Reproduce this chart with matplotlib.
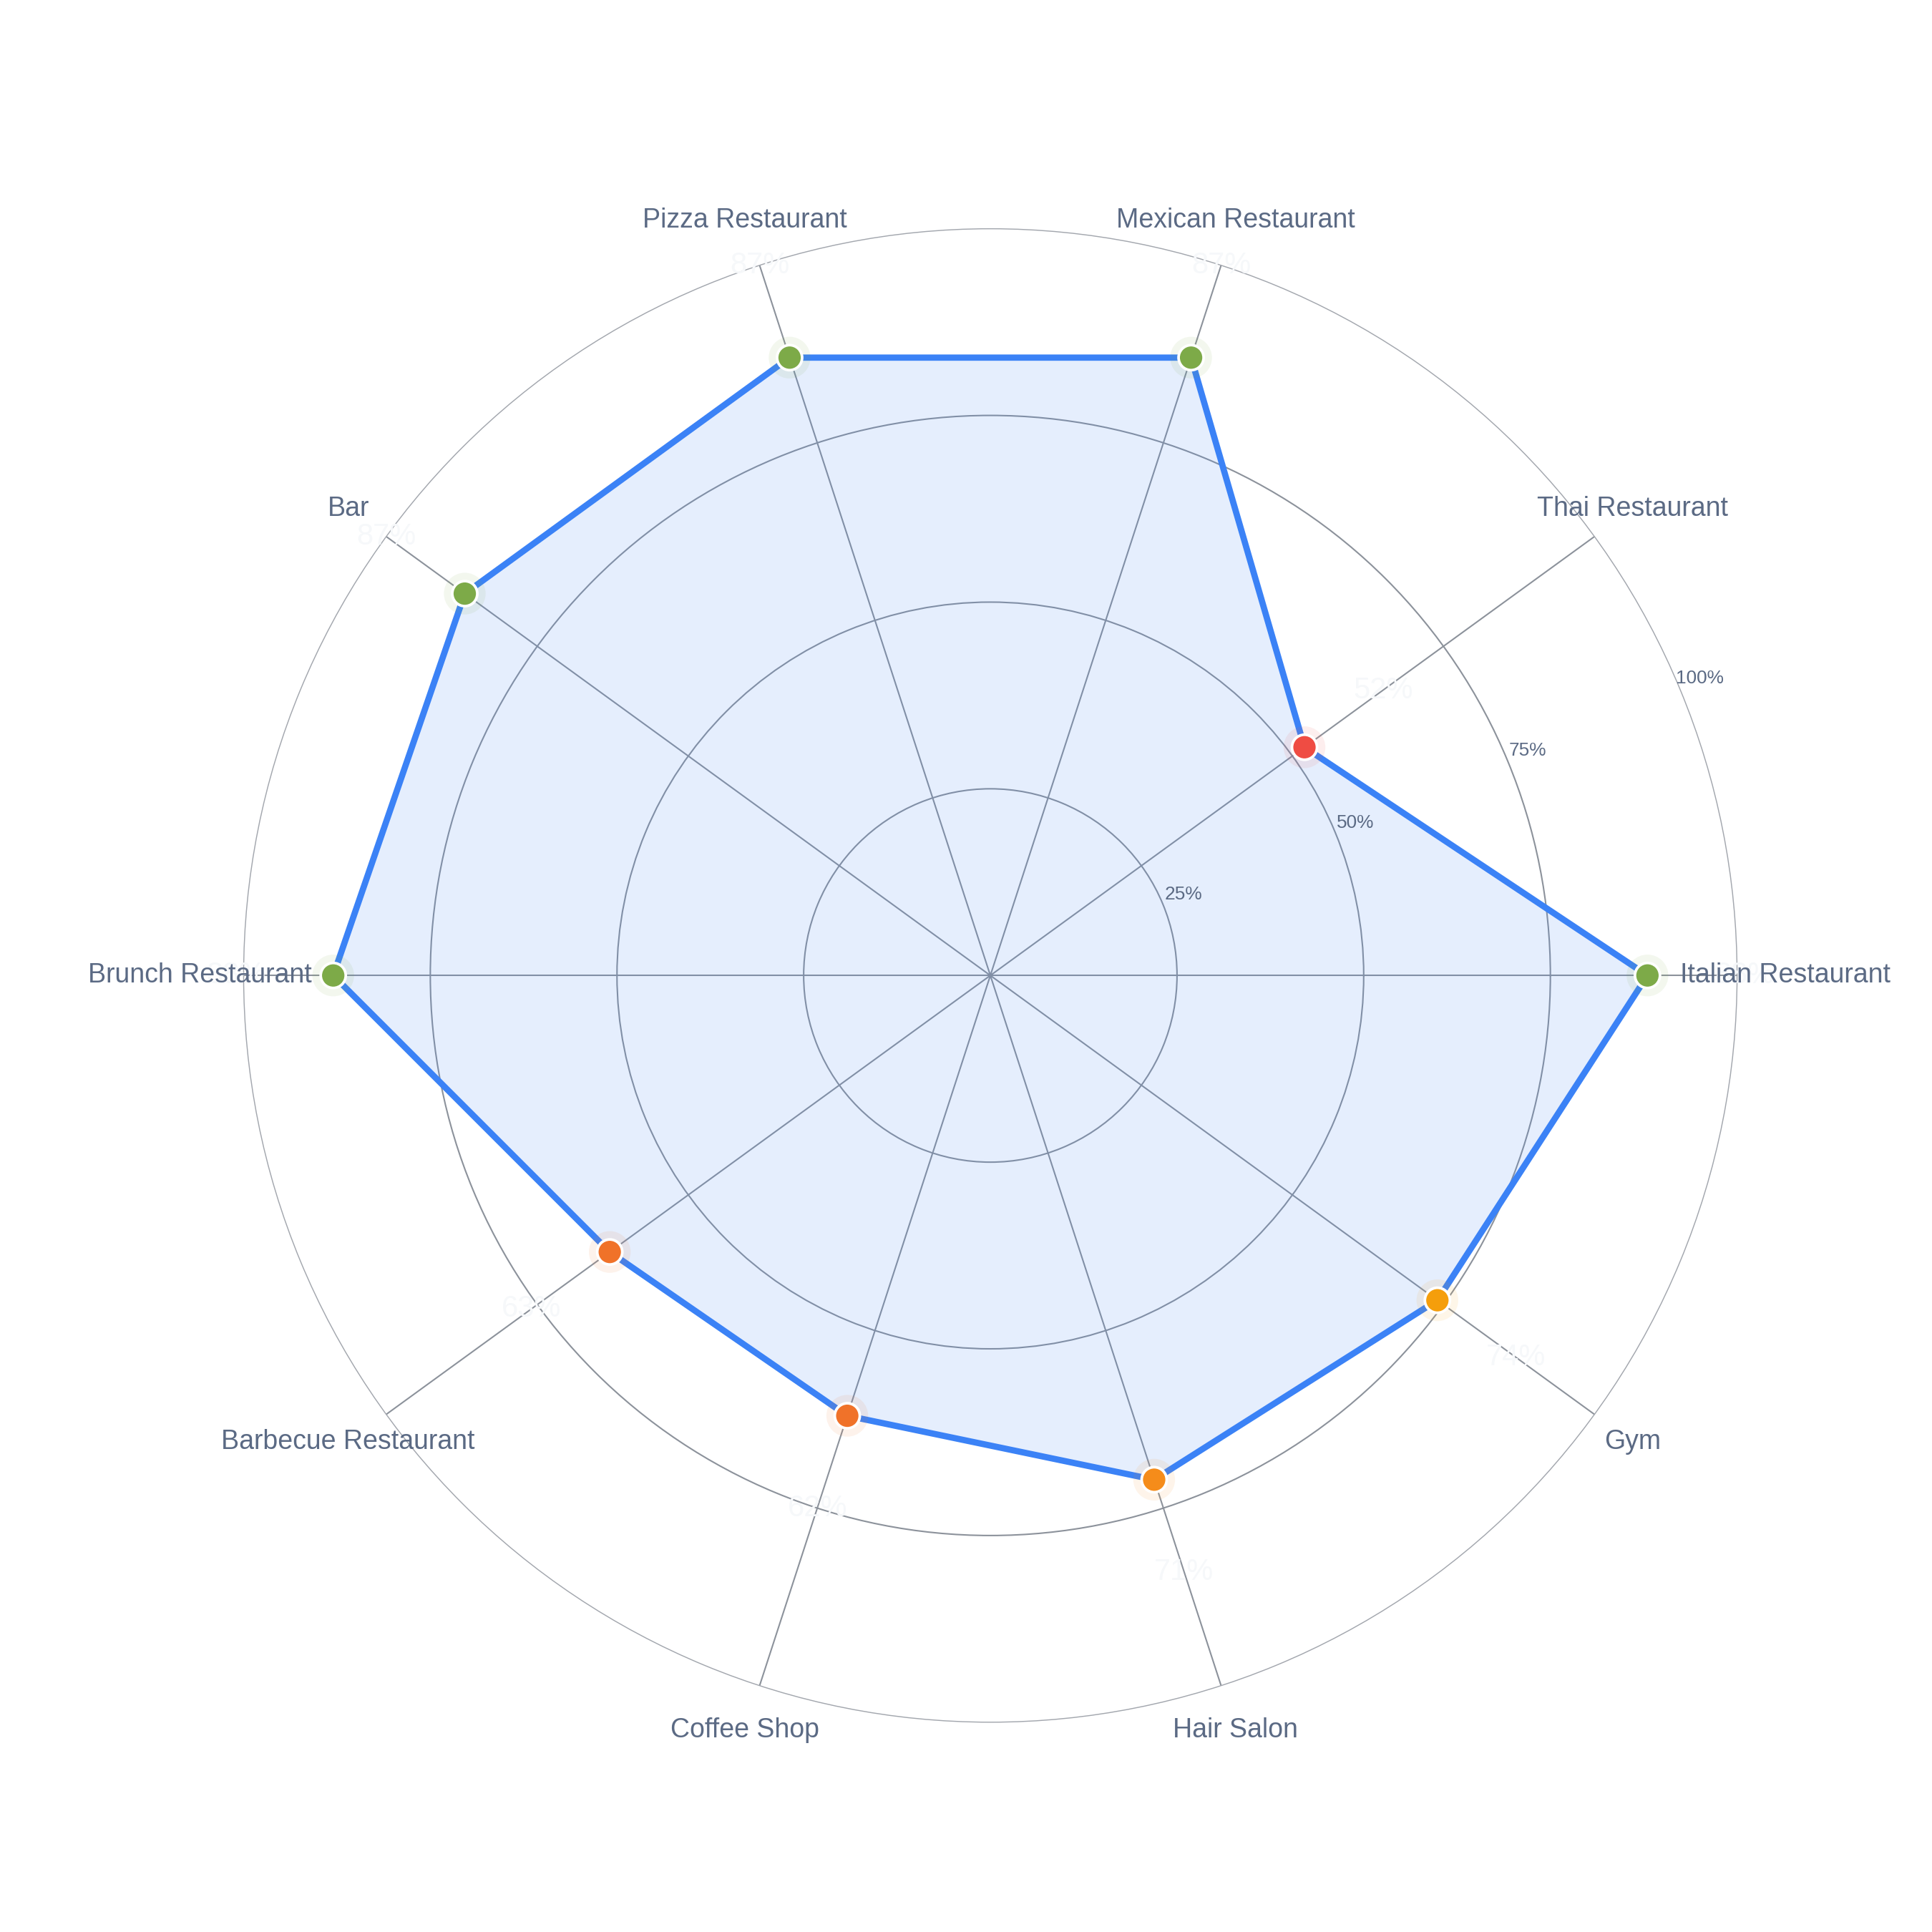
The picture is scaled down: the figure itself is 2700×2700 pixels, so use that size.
import numpy as np
import matplotlib
matplotlib.use("Agg")
import matplotlib.pyplot as plt

categories = ["Italian Restaurant", "Thai Restaurant", "Mexican Restaurant",
              "Pizza Restaurant", "Bar", "Brunch Restaurant",
              "Barbecue Restaurant", "Coffee Shop", "Hair Salon", "Gym"]
scores = [88, 52, 87, 87, 87, 88, 63, 62, 71, 74]
radial_ticks = [25, 50, 75, 100]
radial_tick_labels = ["25%", "50%", "75%", "100%"]

plt.rcParams['font.family'] = ['Liberation Sans', 'DejaVu Sans']

SLATE = '#5b6a84'


def score_color(v):
    if v >= 80:
        return '#7daa48'
    if v >= 73:
        return '#f59e0b'
    if v >= 70:
        return '#f58c1a'
    if v >= 60:
        return '#f07229'
    return '#ef4c43'


n = len(categories)
theta = np.deg2rad(np.arange(n) * 360.0 / n)

fig = plt.figure(figsize=(9, 9), dpi=300)
ax = fig.add_axes([0.1261, 0.1086, 0.773, 0.773], projection='polar')
ax.set_ylim(0, 100)
ax.set_yticks(radial_ticks[:-1])
ax.set_yticklabels([])
ax.set_xticks(theta)
ax.set_xticklabels([])
ax.tick_params(length=0)
ax.grid(True, color='#8c929b', lw=0.5)
ax.spines['polar'].set_color('#a3a7ae')
ax.spines['polar'].set_linewidth(0.35)

th_closed = np.append(theta, theta[0])
r_closed = scores + [scores[0]]
ax.fill(th_closed, r_closed, color='#3b82f6', alpha=0.13, lw=0, zorder=2)
ax.plot(th_closed, r_closed, color='#3b82f6', lw=2.1, zorder=3,
        solid_joinstyle='miter')

colors = [score_color(v) for v in scores]
ax.scatter(theta, scores, s=14.0 ** 2, c=colors, alpha=0.09, lw=0, zorder=4)
ax.scatter(theta, scores, s=8.4 ** 2, c=colors, edgecolors='white',
           linewidths=0.9, zorder=5)

# category labels
for th, lab in zip(theta, categories):
    c = np.cos(th)
    if c > 0.99:
        ax.text(th, 92.4, lab, ha='left', va='center', fontsize=9.0,
                color=SLATE, zorder=7, clip_on=False)
    elif c < -0.99:
        ax.text(th, 90.9, lab, ha='right', va='center', fontsize=9.0,
                color=SLATE, zorder=7, clip_on=False)
    else:
        ax.text(th, 106.3, lab, ha='center', va='center', fontsize=9.0,
                color=SLATE, zorder=7, clip_on=False)

# value labels (nearly white)
for th, v in zip(theta, scores):
    ax.text(th, v + 13, f"{v}%", ha='center', va='center', fontsize=10,
            color='#f6f8fa', zorder=6, clip_on=False)

# radial tick labels
ang = np.deg2rad(22.7)
for t, lab in zip(radial_ticks, radial_tick_labels):
    ax.text(ang, t + 3, lab, ha='center', va='center', fontsize=6.3,
            color=SLATE, zorder=7, clip_on=False)

fig.savefig('out.png', dpi=300, facecolor='white')
